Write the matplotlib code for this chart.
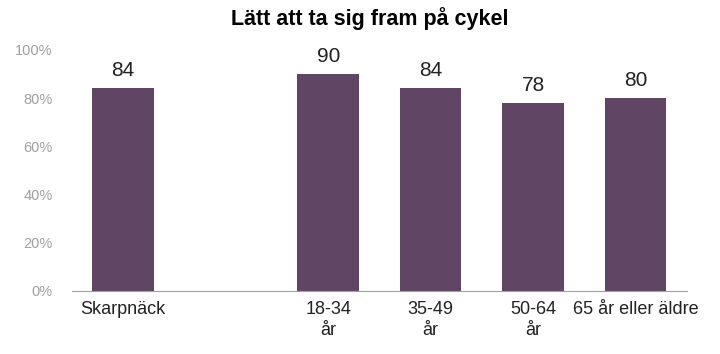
import matplotlib.pyplot as plt
import numpy as np

plt.rcParams["font.family"] = ["Liberation Sans", "DejaVu Sans"]

categories = ["Skarpnäck", "", "18-34\når", "35-49\når", "50-64\når", "65 år eller äldre"]
values = [84, None, 90, 84, 78, 80]
yticks = [0, 20, 40, 60, 80, 100]

bar_color = "#604664"

fig = plt.figure(figsize=(7.2, 3.54), dpi=100)
ax = fig.add_axes([0.1, 0.178, 0.854, 0.681])

x = np.arange(len(categories))
for xi, v in zip(x, values):
    if v is None:
        continue
    ax.bar(xi, v, width=0.6, color=bar_color)
    ax.text(xi, v + 3.5, f"{v}", ha="center", va="bottom", fontsize=15, color="#222222")

ax.set_xlim(-0.5, len(categories) - 0.5)
ax.set_ylim(0, 100)
ax.set_yticks(yticks)
ax.set_yticklabels([f"{t}%" for t in yticks], fontsize=10.5, color="#a0a0a0")
ax.set_xticks(x)
ax.set_xticklabels(categories, fontsize=13, color="#222222", linespacing=1.3)
ax.tick_params(axis="both", length=0)
ax.tick_params(axis="x", pad=7)
ax.tick_params(axis="y", pad=14)

for side in ["top", "right", "left"]:
    ax.spines[side].set_visible(False)
ax.spines["bottom"].set_color("#a0a0a0")

fig.suptitle("Lätt att ta sig fram på cykel", fontsize=15.5, fontweight="bold", y=0.98, x=0.513)

fig.savefig("out.png", dpi=100)
